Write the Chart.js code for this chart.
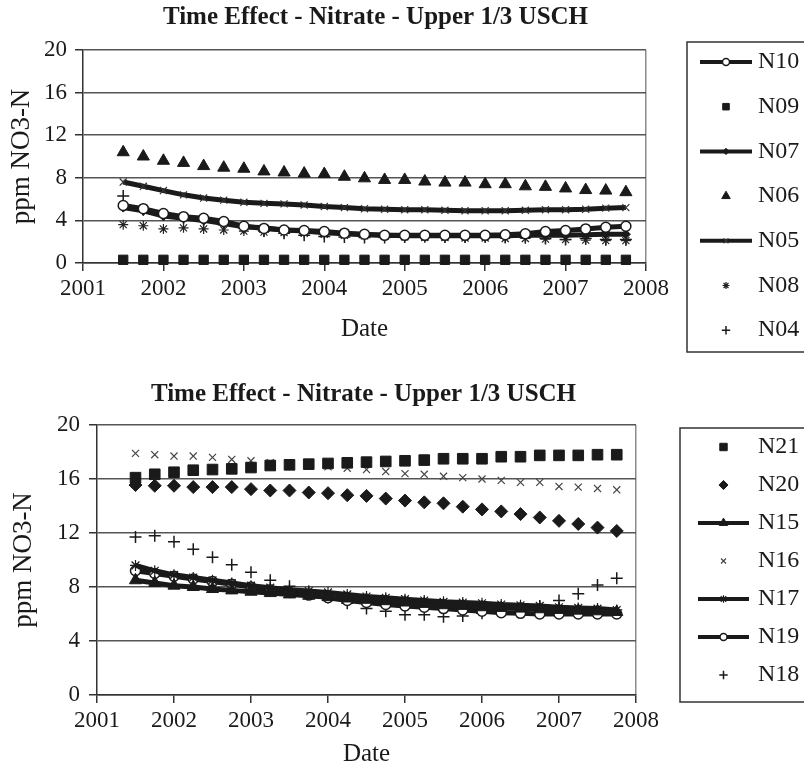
<!DOCTYPE html>
<html>
<head>
<meta charset="utf-8">
<script src="https://cdn.jsdelivr.net/npm/chart.js@4.4.1/dist/chart.umd.min.js"></script>
<style>
html, body { margin: 0; padding: 0; background: #fff; }
canvas { position: absolute; left: 0; }
#c1 { top: 0; }
#c2 { top: 380px; }
</style>
</head>
<body>
<canvas id="c1" width="804" height="380"></canvas>
<canvas id="c2" width="804" height="386"></canvas>
<script>
const SERIF = '"Liberation Serif", "Times New Roman", serif';
const INK = '#1a1a1a';

// quarterly sampling dates (decimal years)
const dates = [2001.5, 2001.75, 2002, 2002.25, 2002.5, 2002.75, 2003, 2003.25, 2003.5, 2003.75,
               2004, 2004.25, 2004.5, 2004.75, 2005, 2005.25, 2005.5, 2005.75, 2006, 2006.25,
               2006.5, 2006.75, 2007, 2007.25, 2007.5, 2007.75];

// ---- upper chart series (ppm NO3-N)
const n10 = [5.4, 5.1, 4.65, 4.35, 4.2, 3.9, 3.45, 3.25, 3.1, 3.05, 2.95, 2.8, 2.7, 2.6, 2.6, 2.6, 2.6, 2.6, 2.6, 2.65, 2.75, 2.95, 3.05, 3.2, 3.35, 3.45];
const n09 = [0.3, 0.3, 0.3, 0.3, 0.3, 0.3, 0.3, 0.3, 0.3, 0.3, 0.3, 0.3, 0.3, 0.3, 0.3, 0.3, 0.3, 0.3, 0.3, 0.3, 0.3, 0.3, 0.3, 0.3, 0.3, 0.3];
const n07 = [5.2, 4.9, 4.4, 4.2, 4.0, 3.7, 3.4, 3.3, 3.1, 3.0, 2.85, 2.75, 2.65, 2.6, 2.55, 2.55, 2.55, 2.55, 2.55, 2.55, 2.6, 2.6, 2.6, 2.65, 2.7, 2.7];
const n06 = [10.4, 10.0, 9.6, 9.4, 9.1, 8.95, 8.85, 8.6, 8.5, 8.4, 8.35, 8.1, 7.95, 7.8, 7.8, 7.65, 7.55, 7.55, 7.4, 7.4, 7.2, 7.15, 7.0, 6.85, 6.8, 6.65];
const n05 = [7.6, 7.2, 6.8, 6.4, 6.1, 5.9, 5.7, 5.6, 5.55, 5.45, 5.3, 5.2, 5.1, 5.05, 5.0, 5.0, 4.95, 4.9, 4.9, 4.9, 4.95, 5.0, 5.0, 5.05, 5.15, 5.2];
const n08 = [3.6, 3.5, 3.2, 3.3, 3.2, 3.1, 3.0, 2.9, 2.85, 2.8, 2.7, 2.6, 2.55, 2.5, 2.45, 2.4, 2.4, 2.35, 2.35, 2.3, 2.3, 2.25, 2.2, 2.15, 2.1, 2.1];
const n04 = [6.3, 5.0, 4.5, 4.2, 4.0, 3.6, 3.3, 3.0, 2.8, 2.6, 2.5, 2.45, 2.4, 2.4, 2.45, 2.5, 2.45, 2.45, 2.5, 2.45, 2.4, 2.3, 2.2, 2.3, 2.2, 2.2];

// ---- lower chart series (ppm NO3-N)
const n21 = [16.1, 16.35, 16.5, 16.65, 16.7, 16.75, 16.85, 17.0, 17.05, 17.1, 17.15, 17.2, 17.25, 17.3, 17.35, 17.4, 17.5, 17.5, 17.5, 17.65, 17.65, 17.75, 17.75, 17.75, 17.8, 17.8];
const n20 = [15.55, 15.5, 15.5, 15.4, 15.4, 15.4, 15.25, 15.15, 15.15, 15.0, 14.95, 14.8, 14.75, 14.55, 14.4, 14.27, 14.2, 13.95, 13.75, 13.6, 13.4, 13.15, 12.9, 12.67, 12.4, 12.15];
const n15 = [8.5, 8.3, 8.1, 8.0, 7.85, 7.75, 7.65, 7.55, 7.45, 7.35, 7.25, 7.15, 7.05, 6.95, 6.85, 6.75, 6.65, 6.6, 6.5, 6.45, 6.4, 6.35, 6.3, 6.25, 6.2, 6.15];
const n16 = [17.9, 17.8, 17.7, 17.7, 17.6, 17.45, 17.35, 17.2, 17.15, 17.1, 16.9, 16.8, 16.7, 16.55, 16.4, 16.35, 16.2, 16.1, 16.0, 15.9, 15.75, 15.75, 15.45, 15.4, 15.3, 15.2];
const n17 = [9.6, 9.2, 8.9, 8.7, 8.5, 8.3, 8.1, 7.95, 7.8, 7.7, 7.6, 7.45, 7.3, 7.2, 7.1, 7.0, 6.9, 6.85, 6.8, 6.7, 6.65, 6.6, 6.5, 6.45, 6.4, 6.3];
const n19 = [9.2, 9.0, 8.8, 8.6, 8.4, 8.2, 8.0, 7.8, 7.6, 7.4, 7.2, 7.0, 6.85, 6.7, 6.6, 6.5, 6.4, 6.3, 6.2, 6.1, 6.05, 6.0, 6.0, 6.0, 6.0, 6.0];
const n18 = [11.7, 11.8, 11.35, 10.8, 10.2, 9.65, 9.1, 8.5, 8.05, 7.65, 7.25, 6.8, 6.4, 6.2, 5.95, 5.95, 5.8, 5.85, 6.05, 6.2, 6.4, 6.6, 7.0, 7.5, 8.15, 8.65];

const yTicks = [0, 4, 8, 12, 16, 20];
const xTicks = [2001, 2002, 2003, 2004, 2005, 2006, 2007, 2008];
const titleText = 'Time Effect - Nitrate - Upper 1/3 USCH';

function pts(vals) {
    return dates.map((d, i) => ({ x: d, y: vals[i] }));
}

// one series: line or marker-only
function series(label, vals, style, radius, opts = {}) {
    return {
        label: label,
        data: pts(vals),
        showLine: !!opts.line,
        borderColor: INK,
        borderWidth: 5,
        pointStyle: style,
        pointRadius: radius,
        pointHoverRadius: radius,
        pointBackgroundColor: opts.fill || INK,
        pointBorderColor: opts.stroke || INK,
        pointBorderWidth: opts.bw || 1,
        clip: false
    };
}

// legend box to the right of the plot, drawn with the datasets' own styles
const boxLegend = {
    id: 'boxLegend',
    afterDraw(chart, args, o) {
        const ctx = chart.ctx;
        ctx.save();
        ctx.strokeStyle = '#333';
        ctx.lineWidth = 1.5;
        ctx.strokeRect(o.left, o.top, o.width, o.height);
        chart.data.datasets.forEach((ds, i) => {
            const y = o.firstY + i * o.step;
            if (ds.showLine) {
                ctx.strokeStyle = ds.borderColor;
                ctx.lineWidth = 4;
                ctx.beginPath();
                ctx.moveTo(o.x0, y);
                ctx.lineTo(o.x1, y);
                ctx.stroke();
            }
            ctx.fillStyle = ds.pointBackgroundColor;
            ctx.strokeStyle = ds.pointBorderColor;
            ctx.lineWidth = ds.pointBorderWidth;
            Chart.helpers.drawPoint(ctx, {
                pointStyle: ds.pointStyle,
                radius: ds.pointRadius * 0.7,
                borderWidth: ds.pointBorderWidth,
                rotation: 0
            }, (o.x0 + o.x1) / 2, y);
            ctx.fillStyle = INK;
            ctx.font = '24px ' + SERIF;
            ctx.textBaseline = 'middle';
            ctx.textAlign = 'left';
            ctx.fillText(ds.label, o.textX, y);
        });
        ctx.restore();
    }
};

function makeChart(id, datasets, g) {
    return new Chart(document.getElementById(id), {
        type: 'scatter',
        data: { datasets: datasets },
        plugins: [boxLegend],
        options: {
            responsive: false,
            animation: false,
            events: [],
            layout: { padding: { left: 0, right: g.padRight, top: 0, bottom: 0 } },
            plugins: {
                legend: { display: false },
                tooltip: { enabled: false },
                title: {
                    display: true,
                    text: titleText,
                    color: INK,
                    font: { family: SERIF, size: 25, weight: 'bold', lineHeight: 1.2 },
                    padding: { top: g.titleTop, bottom: g.titleBottom }
                },
                boxLegend: g.legend
            },
            scales: {
                x: {
                    type: 'linear',
                    min: 2001, max: 2008,
                    afterBuildTicks: s => { s.ticks = xTicks.map(v => ({ value: v })); },
                    ticks: {
                        color: INK,
                        font: { family: SERIF, size: 23 },
                        padding: 4,
                        maxRotation: 0,
                        callback: v => String(v)
                    },
                    grid: {
                        color: c => (c.tick && c.tick.value === 2008) ? '#8c8c8c' : 'rgba(0,0,0,0)',
                        tickColor: '#333',
                        tickLength: 8,
                        lineWidth: 1.5
                    },
                    border: { color: '#333', width: 1.5 },
                    title: {
                        display: true,
                        text: 'Date',
                        color: INK,
                        font: { family: SERIF, size: 25, lineHeight: 1 },
                        padding: { top: 0, bottom: g.dateBottom }
                    },
                    afterFit: s => { s.height = g.xh; }
                },
                y: {
                    min: 0, max: 20,
                    afterBuildTicks: s => { s.ticks = yTicks.map(v => ({ value: v })); },
                    ticks: {
                        color: INK,
                        font: { family: SERIF, size: 23 },
                        padding: g.yPad
                    },
                    grid: { color: '#555', tickColor: '#333', tickLength: 8, lineWidth: 1.5 },
                    border: { color: '#333', width: 1.5 },
                    title: {
                        display: true,
                        text: 'ppm NO3-N',
                        color: INK,
                        font: { family: SERIF, size: 27, lineHeight: 1.2 },
                        padding: { top: g.yTitlePad, bottom: 0 }
                    },
                    afterFit: s => { s.width = g.yw; }
                },
                y2: {
                    position: 'right',
                    display: true,
                    grid: { display: false },
                    border: { display: false },
                    ticks: { display: false },
                    afterFit: s => { s.width = g.rw; }
                }
            }
        }
    });
}

makeChart('c1', [
    series('N10', n10, 'circle', 5, { line: true, fill: '#fff', bw: 1.5 }),
    series('N09', n09, 'rect', 6.6),
    series('N07', n07, 'rectRot', 4.5, { line: true }),
    series('N06', n06, 'triangle', 7),
    series('N05', n05, 'crossRot', 5, { line: true, stroke: '#333', bw: 1.2 }),
    series('N08', n08, 'star', 5, { stroke: '#222', bw: 1.2 }),
    series('N04', n04, 'cross', 6, { bw: 1.5 })
], {
    padRight: 53, rw: 105, yw: 83, xh: 117,
    titleTop: 3, titleBottom: 17, dateBottom: 38, yPad: 8, yTitlePad: 6,
    legend: { left: 687, top: 42, width: 130, height: 310, firstY: 62, step: 44.7, x0: 700, x1: 752, textX: 758 }
});

makeChart('c2', [
    series('N21', n21, 'rect', 7.5),
    series('N20', n20, 'rectRot', 6.5),
    series('N15', n15, 'triangle', 7, { line: true }),
    series('N16', n16, 'crossRot', 5, { stroke: '#444', bw: 1.2 }),
    series('N17', n17, 'star', 5.5, { line: true, bw: 1.2 }),
    series('N19', n19, 'circle', 5, { line: true, fill: '#fff', bw: 1.5 }),
    series('N18', n18, 'cross', 6, { bw: 1.5 })
], {
    padRight: 77, rw: 91, yw: 97, xh: 71,
    titleTop: 0, titleBottom: 15, dateBottom: -1, yPad: 9, yTitlePad: 8,
    legend: { left: 680, top: 48, width: 130, height: 274, firstY: 67, step: 38, x0: 698, x1: 749, textX: 758 }
});
</script>
</body>
</html>
